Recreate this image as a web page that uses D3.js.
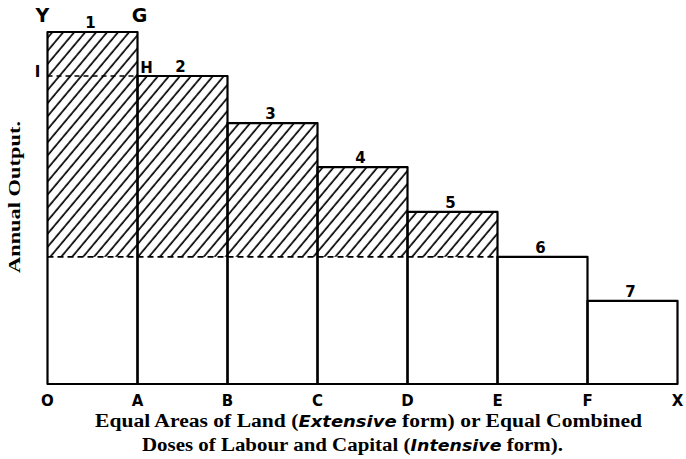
<!DOCTYPE html>
<html>
<head>
<meta charset="utf-8">
<script src="https://cdn.jsdelivr.net/npm/d3@7"></script>
<style>
	body{ margin:0; background:#fff; }
	svg{ display:block; }
	.letter{ font-family:"DejaVu Sans", sans-serif; font-weight:bold; fill:#000; }
	.caption{ font-family:"Liberation Serif", "DejaVu Serif", serif; font-weight:bold; fill:#000; }
	.caption .it{ font-family:"DejaVu Sans", sans-serif; font-style:italic; }
</style>
</head>
<body>
<svg id="chart" width="686" height="459"></svg>
<script>
(function(){
	'use strict';

	// data
	var boundaryLabels = ["O", "A", "B", "C", "D", "E", "F", "X"];
	var doseLabels = ["1", "2", "3", "4", "5", "6", "7"];
	var outputs = [8, 7, 5.93, 4.93, 3.91, 2.89, 1.89];
	var marginIndex = 5; // dose 6 is at the margin

	var svg = d3.select("#chart");

	var x = d3.scaleLinear().domain([0, 7]).range([47.5, 677.5]);
	var y = d3.scaleLinear().domain([0, 8]).range([384, 32]);

	// hatch pattern
	svg.append("defs").append("pattern")
		.attr("id", "hatch")
		.attr("patternUnits", "userSpaceOnUse")
		.attr("width", 8.4)
		.attr("height", 20)
		.attr("patternTransform", "rotate(40)")
	.append("line")
		.attr("x1", 2).attr("y1", -2)
		.attr("x2", 2).attr("y2", 22)
		.attr("stroke", "#000")
		.attr("stroke-width", 1.7);

	var surplus = outputs[marginIndex];

	// hatched surplus areas
	svg.append("g").selectAll("rect")
		.data(outputs.slice(0, marginIndex))
	.enter().append("rect")
		.attr("x", function(d, i){ return x(i); })
		.attr("y", function(d){ return y(d); })
		.attr("width", function(d, i){ return x(i + 1) - x(i); })
		.attr("height", function(d){ return y(surplus) - y(d); })
		.attr("fill", "url(#hatch)");

	// dashed lines
	svg.append("line")
		.attr("x1", x(0)).attr("x2", x(marginIndex))
		.attr("y1", y(surplus)).attr("y2", y(surplus))
		.attr("stroke", "#000")
		.attr("stroke-width", 1.8)
		.attr("stroke-dasharray", "6,4");
	svg.append("line")
		.attr("x1", x(0)).attr("x2", x(1))
		.attr("y1", y(outputs[1])).attr("y2", y(outputs[1]))
		.attr("stroke", "#000")
		.attr("stroke-width", 1.6)
		.attr("stroke-dasharray", "5,4");

	// bar outlines
	svg.append("g").selectAll("rect")
		.data(outputs)
	.enter().append("rect")
		.attr("x", function(d, i){ return x(i); })
		.attr("y", function(d){ return y(d); })
		.attr("width", function(d, i){ return x(i + 1) - x(i); })
		.attr("height", function(d){ return y(0) - y(d); })
		.attr("fill", "none")
		.attr("stroke", "#000")
		.attr("stroke-width", 2.2)
		.attr("stroke-linejoin", "round");

	// dose numbers
	svg.append("g").selectAll("text")
		.data(doseLabels)
	.enter().append("text")
		.attr("class", "letter")
		.attr("font-size", 15)
		.attr("text-anchor", "middle")
		.attr("x", function(d, i){ return (x(i) + x(i + 1)) / 2 - 2; })
		.attr("y", function(d, i){ return y(outputs[i]) - 4; })
		.text(function(d){ return d; });

	// boundary letters
	svg.append("g").selectAll("text")
		.data(boundaryLabels)
	.enter().append("text")
		.attr("class", "letter")
		.attr("font-size", 15)
		.attr("text-anchor", "middle")
		.attr("x", function(d, i){ return x(i); })
		.attr("y", y(0) + 22)
		.text(function(d){ return d; });

	// corner letters
	var corners = [
		{t: "Y", x: x(0) - 5, y: y(outputs[0]) - 10, s: 19},
		{t: "G", x: x(1) + 2, y: y(outputs[0]) - 10, s: 19},
		{t: "H", x: x(1) + 9, y: y(outputs[1]) - 3, s: 15},
		{t: "I", x: x(0) - 10, y: y(outputs[1]) + 1, s: 15}
	];
	svg.append("g").selectAll("text")
		.data(corners)
	.enter().append("text")
		.attr("class", "letter")
		.attr("font-size", function(d){ return d.s; })
		.attr("text-anchor", "middle")
		.attr("x", function(d){ return d.x; })
		.attr("y", function(d){ return d.y; })
		.text(function(d){ return d.t; });

	// y axis title
	svg.append("text")
		.attr("class", "caption")
		.attr("font-size", 17)
		.attr("text-anchor", "middle")
		.attr("textLength", 152)
		.attr("lengthAdjust", "spacingAndGlyphs")
		.attr("transform", "translate(20,197) rotate(-90)")
		.text("Annual Output.");

	// caption, two lines
	var l1 = svg.append("text")
		.attr("class", "caption")
		.attr("font-size", 18)
		.attr("x", 95).attr("y", 427)
		.attr("textLength", 547)
		.attr("lengthAdjust", "spacingAndGlyphs");
	l1.append("tspan").text("Equal Areas of Land (");
	l1.append("tspan").attr("class", "it").attr("font-size", 15).text("Extensive");
	l1.append("tspan").text(" form) or Equal Combined");

	var l2 = svg.append("text")
		.attr("class", "caption")
		.attr("font-size", 18)
		.attr("x", 142).attr("y", 451)
		.attr("textLength", 421)
		.attr("lengthAdjust", "spacingAndGlyphs");
	l2.append("tspan").text("Doses of Labour and Capital (");
	l2.append("tspan").attr("class", "it").attr("font-size", 15).text("Intensive");
	l2.append("tspan").text(" form).");
}());
</script>
</body>
</html>
